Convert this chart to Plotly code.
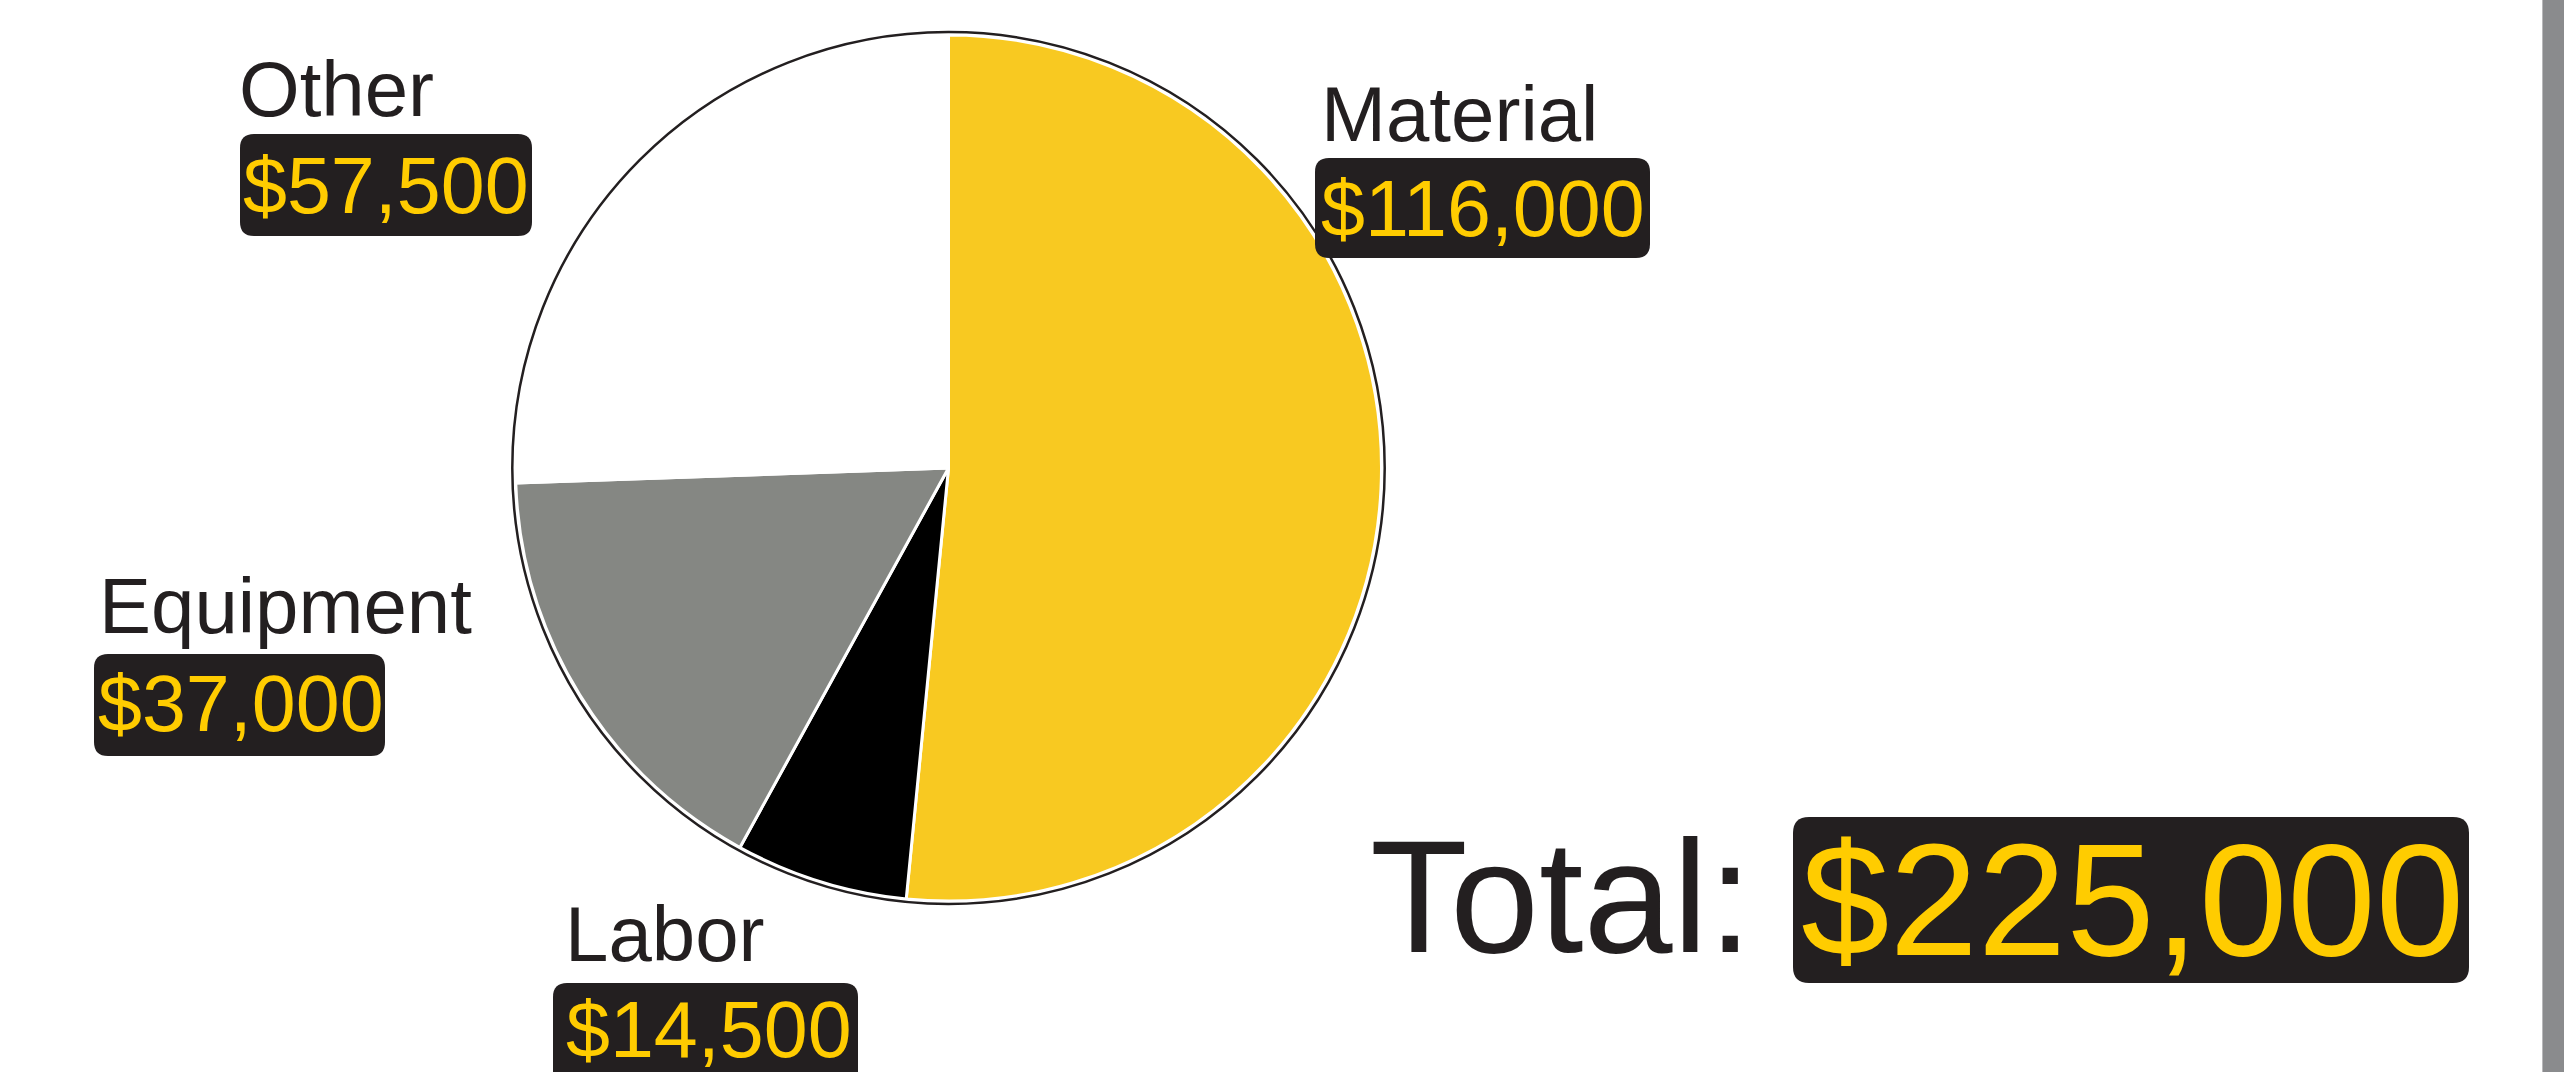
import plotly.graph_objects as go

# ---- data ----
categories = ["Material", "Labor", "Equipment", "Other"]
values = [116000, 14500, 37000, 57500]
slice_colors = ["#F8C921", "#000000", "#858783", "#FFFFFF"]
total_label = "Total:"

W, H = 2564, 1072

# ---- layout helpers (pixel -> paper) ----
def px(x):
    return x / W

def py(y):
    return 1 - y / H

def rounded_box(x0, y0, x1, y1, r=14):
    X0, X1 = px(x0), px(x1)
    Y0, Y1 = py(y0), py(y1)
    rx, ry = r / W, r / H
    path = (
        f"M {X0+rx},{Y0} L {X1-rx},{Y0} Q {X1},{Y0} {X1},{Y0-ry} "
        f"L {X1},{Y1+ry} Q {X1},{Y1} {X1-rx},{Y1} "
        f"L {X0+rx},{Y1} Q {X0},{Y1} {X0},{Y1+ry} "
        f"L {X0},{Y0-ry} Q {X0},{Y0} {X0+rx},{Y0} Z"
    )
    return dict(type="path", xref="paper", yref="paper", path=path,
                fillcolor="#231F20", line=dict(width=0), layer="above")

# pie geometry (pixels)
cx, cy, r_slice, r_outline = 948.5, 468, 433, 436

fig = go.Figure()
fig.add_trace(go.Pie(
    labels=categories, values=values, sort=False, direction="clockwise",
    rotation=0, textinfo="none", hoverinfo="label+value",
    marker=dict(colors=slice_colors, line=dict(color="#FFFFFF", width=3)),
    domain=dict(x=[px(cx - r_slice), px(cx + r_slice)],
                y=[py(cy + r_slice), py(cy - r_slice)]),
    showlegend=False,
))
# outer outline circle
fig.add_trace(go.Pie(
    labels=["outline"], values=[1], sort=False, textinfo="none", hoverinfo="skip",
    marker=dict(colors=["rgba(0,0,0,0)"], line=dict(color="#231F20", width=2.5)),
    domain=dict(x=[px(cx - r_outline), px(cx + r_outline)],
                y=[py(cy + r_outline), py(cy - r_outline)]),
    showlegend=False,
))

# label placements (pixels): name left, name mid-y, amount left, amount mid-y, box
placements = {
    "Other":     dict(nx=237, ny=89,    ax=241, ay=186,   box=(240, 134, 532, 236)),
    "Material":  dict(nx=1319, ny=113.5, ax=1319, ay=208.5, box=(1315, 158, 1650, 258)),
    "Equipment": dict(nx=97, ny=605.5, ax=96, ay=703.5,  box=(94, 654, 385, 756)),
    "Labor":     dict(nx=563, ny=933.5, ax=564, ay=1029.5, box=(553, 983, 858, 1090)),
}

FONT = "Liberation Sans, Arial, Helvetica, sans-serif"
shapes = []
annotations = []
for cat, val in zip(categories, values):
    p = placements[cat]
    shapes.append(rounded_box(*p["box"]))
    annotations.append(dict(x=px(p["nx"]), y=py(p["ny"]), xref="paper", yref="paper",
                            xanchor="left", yanchor="middle", showarrow=False,
                            text=cat, font=dict(family=FONT, size=78, color="#231F20")))
    annotations.append(dict(x=px(p["ax"]), y=py(p["ay"]), xref="paper", yref="paper",
                            xanchor="left", yanchor="middle", showarrow=False,
                            text=f"${val:,}", font=dict(family=FONT, size=79, color="#FFCC00")))

# total
total = sum(values)
shapes.append(rounded_box(1793, 817, 2469, 983, r=16))
annotations.append(dict(x=px(1368), y=py(896.5), xref="paper", yref="paper",
                        xanchor="left", yanchor="middle", showarrow=False,
                        text=total_label, font=dict(family=FONT, size=160, color="#231F20")))
annotations.append(dict(x=px(1799), y=py(899.5), xref="paper", yref="paper",
                        xanchor="left", yanchor="middle", showarrow=False,
                        text=f"${total:,}", font=dict(family=FONT, size=159, color="#FFCC00")))

# right-side grey bar
shapes.append(dict(type="rect", xref="paper", yref="paper", x0=px(2542), x1=1.0, y0=0, y1=1,
                   fillcolor="#8A8B8D", line=dict(width=0), layer="above"))
shapes.append(dict(type="line", xref="paper", yref="paper", x0=px(2542.5), x1=px(2542.5), y0=0, y1=1,
                   line=dict(color="#B8B8BA", width=1), layer="above"))

fig.update_layout(
    width=W, height=H,
    margin=dict(l=0, r=0, t=0, b=0),
    paper_bgcolor="#FFFFFF", plot_bgcolor="#FFFFFF",
    shapes=shapes, annotations=annotations,
    showlegend=False,
)

fig.write_html(
    "out.html",
    config={"displayModeBar": False},
    post_script="document.body.style.margin='0';document.body.style.overflow='hidden';",
)
